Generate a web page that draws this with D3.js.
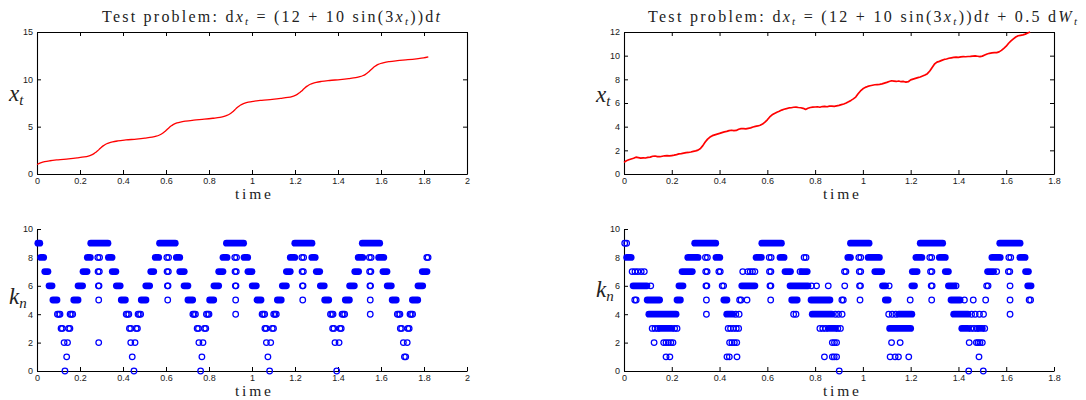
<!DOCTYPE html>
<html><head><meta charset="utf-8">
<script src="https://cdn.jsdelivr.net/npm/d3@7"></script>
<style>body{margin:0;background:#fff}svg{display:block}</style>
</head><body>
<script>
// ---------------- DATA ----------------
// tick values
const xTicksA = [0,0.2,0.4,0.6,0.8,1,1.2,1.4,1.6,1.8,2];
const xTicksB = [0,0.2,0.4,0.6,0.8,1,1.2,1.4,1.6,1.8];
const yTicksTL = [0,5,10,15];
const yTicksTR = [0,2,4,6,8,10,12];
const yTicksK = [0,2,4,6,8,10];

// deterministic path (top-left)
const detT = [0,0.0084,0.0197,0.0357,0.0603,0.098,0.1467,0.1865,0.2197,0.2388,0.2517,0.265,0.2741,0.2823,0.2892,0.2985,0.3094,
0.3157,0.3241,0.3354,0.3514,0.376,0.4137,0.4624,0.5022,0.5354,0.5545,0.5674,0.5807,0.5898,0.598,0.6049,0.6142,0.6251,
0.6314,0.6398,0.6511,0.6671,0.6917,0.7294,0.7781,0.8179,0.8511,0.8702,0.8831,0.8964,0.9055,0.9137,0.9206,0.9299,0.9408,
0.9471,0.9555,0.9668,0.9828,1.0074,1.0451,1.0938,1.1336,1.1668,1.1859,1.1988,1.2121,1.2212,1.2294,1.2363,1.2456,1.2565,
1.2628,1.2712,1.2825,1.2985,1.3231,1.3608,1.4095,1.4493,1.4825,1.5016,1.5145,1.5278,1.5369,1.5451,1.552,1.5613,1.5722,
1.5785,1.5869,1.5982,1.6142,1.6388,1.6765,1.7252,1.765,1.7982,1.82];
const detX = [1.0,1.1,1.2,1.3,1.4,1.5,1.6,1.7,1.8,1.9,2.0,2.15,2.3,2.45,2.6,2.8,3.0,
3.094,3.194,3.294,3.394,3.494,3.594,3.694,3.794,3.894,3.994,4.094,4.244,4.394,4.544,4.694,4.894,5.094,
5.189,5.289,5.389,5.489,5.589,5.689,5.789,5.889,5.989,6.089,6.189,6.339,6.489,6.639,6.789,6.989,7.189,
7.283,7.383,7.483,7.583,7.683,7.783,7.883,7.983,8.083,8.183,8.283,8.433,8.583,8.733,8.883,9.083,9.283,
9.378,9.478,9.578,9.678,9.778,9.878,9.978,10.078,10.178,10.278,10.378,10.528,10.678,10.828,10.978,11.178,11.378,
11.472,11.572,11.672,11.772,11.872,11.972,12.072,12.172,12.272,12.38];

// stochastic path (top-right), sampled every 0.01 in time
const stochStep = 0.01;
const stochX = [0.98,1.12,1.20,1.27,1.33,1.42,1.38,1.34,1.37,1.35,
1.40,1.43,1.50,1.52,1.47,1.46,1.50,1.54,1.55,1.53,
1.56,1.59,1.64,1.70,1.72,1.76,1.80,1.82,1.86,1.91,
1.95,2.02,2.15,2.40,2.70,2.95,3.12,3.24,3.31,3.37,
3.43,3.50,3.56,3.60,3.67,3.70,3.66,3.68,3.78,3.83,
3.84,3.82,3.86,3.90,3.97,4.02,4.06,4.12,4.22,4.38,
4.58,4.82,5.00,5.12,5.22,5.30,5.40,5.47,5.52,5.58,
5.60,5.64,5.65,5.62,5.60,5.55,5.46,5.56,5.62,5.65,
5.66,5.68,5.64,5.70,5.72,5.68,5.73,5.74,5.72,5.76,
5.80,5.86,5.92,6.00,6.10,6.22,6.35,6.50,6.78,7.02,
7.20,7.32,7.40,7.46,7.50,7.54,7.56,7.58,7.62,7.68,
7.74,7.82,7.88,7.85,7.82,7.86,7.80,7.82,7.76,7.80,
7.95,8.02,8.08,8.14,8.20,8.28,8.36,8.48,8.70,9.00,
9.30,9.45,9.52,9.60,9.68,9.72,9.78,9.82,9.86,9.87,
9.85,9.90,9.92,9.91,9.93,9.94,9.96,9.98,9.95,9.92,
9.96,10.05,10.14,10.20,10.23,10.25,10.26,10.32,10.45,10.62,
10.80,11.05,11.25,11.42,11.58,11.68,11.72,11.76,11.82,11.92,12.00];

// k_n, deterministic problem: dense runs [k, tStart, tEnd] and single circles [k, t]
const detRuns = [
[9,0.004,0.013],[9,0.250,0.330],[9,0.570,0.643],[9,0.881,0.961],[9,1.199,1.279],[9,1.513,1.594],
[8,0.017,0.031],[8,0.234,0.248],[8,0.332,0.349],[8,0.550,0.566],[8,0.648,0.664],[8,0.865,0.884],[8,0.963,0.980],[8,1.178,1.199],[8,1.278,1.294],[8,1.494,1.515],[8,1.589,1.613],
[7,0.036,0.051],[7,0.214,0.233],[7,0.350,0.367],[7,0.529,0.543],[7,0.664,0.685],[7,0.845,0.865],[7,0.981,1.000],[7,1.160,1.178],[7,1.299,1.315],[7,1.478,1.496],[7,1.609,1.628],[7,1.792,1.814],
[6,0.056,0.070],[6,0.191,0.212],[6,0.369,0.387],[6,0.506,0.524],[6,0.684,0.702],[6,0.823,0.845],[6,1.001,1.020],[6,1.141,1.160],[6,1.318,1.336],[6,1.454,1.476],[6,1.629,1.648],[6,1.772,1.794],
[5,0.074,0.093],[5,0.171,0.191],[5,0.392,0.411],[5,0.485,0.507],[5,0.702,0.724],[5,0.803,0.822],[5,1.023,1.042],[5,1.118,1.136],[5,1.338,1.357],[5,1.434,1.453],[5,1.652,1.671],[5,1.746,1.771]
];
const detPts = [
[8,0.283],[8,0.291],[8,0.604],[8,0.612],[8,0.920],[8,0.928],[8,1.232],[8,1.240],[8,1.546],[8,1.554],[8,1.813],[8,1.819],
[7,0.284],[7,0.290],[7,0.605],[7,0.611],[7,0.921],[7,0.927],[7,1.233],[7,1.239],[7,1.547],[7,1.553],
[6,0.2855],[6,0.2885],[6,0.6065],[6,0.6095],[6,0.9225],[6,0.9255],[6,1.2345],[6,1.2375],[6,1.5485],[6,1.5515],
[5,0.287],[5,0.608],[5,0.924],[5,1.236],[5,1.550],
[4,0.095],[4,0.101],[4,0.107],[4,0.154],[4,0.160],[4,0.166],[4,0.415],[4,0.421],[4,0.427],[4,0.470],[4,0.476],[4,0.482],
[4,0.725],[4,0.731],[4,0.737],[4,0.788],[4,0.794],[4,0.800],[4,1.047],[4,1.053],[4,1.059],[4,1.101],[4,1.107],[4,1.113],
[4,1.365],[4,1.371],[4,1.377],[4,1.419],[4,1.425],[4,1.431],[4,1.676],[4,1.682],[4,1.688],[4,1.735],[4,1.741],[4,1.747],
[4,0.924],[4,1.550],
[3,0.112],[3,0.118],[3,0.147],[3,0.153],[3,0.430],[3,0.436],[3,0.461],[3,0.467],[3,0.745],[3,0.751],[3,0.779],[3,0.785],
[3,1.060],[3,1.066],[3,1.094],[3,1.100],[3,1.375],[3,1.381],[3,1.409],[3,1.415],[3,1.690],[3,1.696],[3,1.725],[3,1.731],
[2,0.126],[2,0.142],[2,0.287],[2,0.436],[2,0.456],[2,0.753],[2,0.772],[2,1.067],[2,1.087],[2,1.386],[2,1.405],[2,1.704],[2,1.722],
[1,0.138],[1,0.443],[1,0.767],[1,1.074],[1,1.709],[1,1.715],
[0,0.130],[0,0.451],[0,0.761],[0,1.082],[0,1.394]
];

// k_n, stochastic problem
const stoRuns = [
[9,0.296,0.384],[9,0.577,0.659],[9,0.948,1.026],[9,1.240,1.334],[9,1.573,1.658],
[8,0.011,0.030],[8,0.267,0.310],[8,0.385,0.401],[8,0.553,0.575],[8,0.653,0.670],[8,0.937,0.948],[8,1.022,1.069],[8,1.222,1.247],[8,1.320,1.345],[8,1.540,1.575],[8,1.657,1.679],
[7,0.243,0.286],[7,0.674,0.697],[7,0.745,0.767],[7,1.050,1.079],[7,1.207,1.227],[7,1.345,1.358],[7,1.522,1.547],[7,1.681,1.693],
[6,0.038,0.096],[6,0.230,0.247],[6,0.493,0.548],[6,0.695,0.770],[6,1.082,1.095],[6,1.205,1.216],[6,1.358,1.382],[6,1.690,1.704],
[5,0.097,0.149],[5,0.222,0.236],[5,0.418,0.431],[5,0.702,0.725],[5,0.783,0.862],[5,1.094,1.106],[5,1.369,1.407],
[4,0.104,0.218],[4,0.430,0.455],[4,0.788,0.870],[4,1.150,1.205],[4,1.380,1.440],
[3,0.150,0.200],[3,0.856,0.885],[3,1.112,1.200],[3,1.414,1.440],[3,1.485,1.500]
];
const stoPts = [
[9,0.003],[9,0.011],
[8,0.341],[8,0.349],[8,0.608],[8,0.616],[8,0.754],[8,0.762],[8,0.983],[8,0.991],[8,1.280],[8,1.288],[8,1.611],[8,1.619],
[7,0.034],[7,0.046],[7,0.058],[7,0.072],[7,0.085],[7,0.342],[7,0.348],[7,0.397],[7,0.403],[7,0.497],[7,0.518],[7,0.528],[7,0.538],[7,0.548],
[7,0.609],[7,0.615],[7,0.737],[7,0.923],[7,0.929],[7,0.985],[7,0.991],[7,1.283],[7,1.289],[7,1.560],[7,1.609],[7,1.615],
[6,0.112],[6,0.343],[6,0.347],[6,0.411],[6,0.417],[6,0.611],[6,0.615],[6,0.785],[6,0.806],[6,0.855],[6,0.924],[6,0.986],[6,0.990],
[6,1.110],[6,1.286],[6,1.290],[6,1.390],[6,1.518],[6,1.524],[6,1.616],
[5,0.045],[5,0.051],[5,0.345],[5,0.484],[5,0.490],[5,0.515],[5,0.614],[5,0.912],[5,0.918],[5,0.988],[5,1.198],[5,1.288],
[5,1.425],[5,1.462],[5,1.514],[5,1.616],[5,1.696],[5,1.702],
[4,0.345],[4,0.468],[4,0.482],[4,0.710],[4,0.720],[4,0.885],[4,0.898],[4,0.913],[4,1.108],[4,1.123],[4,1.138],
[4,1.455],[4,1.470],[4,1.488],[4,1.505],[4,1.616],
[3,0.118],[3,0.130],[3,0.142],[3,0.212],[3,0.222],[3,0.436],[3,0.446],[3,0.458],[3,0.470],[3,0.480],
[3,0.820],[3,0.832],[3,0.844],[3,0.895],[3,0.906],[3,1.452],[3,1.465],[3,1.478],[3,1.510],
[2,0.126],[2,0.166],[2,0.176],[2,0.186],[2,0.196],[2,0.205],[2,0.442],[2,0.452],[2,0.462],[2,0.472],
[2,0.872],[2,0.881],[2,0.890],[2,1.120],[2,1.156],[2,1.445],[2,1.475],[2,1.482],[2,1.490],[2,1.500],
[1,0.176],[1,0.192],[1,0.431],[1,0.441],[1,0.473],[1,0.839],[1,0.872],[1,0.880],[1,0.890],[1,1.114],[1,1.135],[1,1.149],[1,1.192],[1,1.486],
[0,0.901],[0,1.443],[0,1.504]
];

// ---------------- DRAWING ----------------
const svg = d3.select("body").append("svg").attr("width",1086).attr("height",400);
const SERIF = "'Liberation Serif','Times New Roman',serif";
const SANS = "'Liberation Sans',Arial,Helvetica,sans-serif";
const fmt = d => String(+(+d).toFixed(1));

function panel(c){
  const x = d3.scaleLinear().domain(c.xDomain).range([c.left,c.right]);
  const y = d3.scaleLinear().domain(c.yDomain).range([c.bottom,c.top]);
  const g = svg.append("g");
  const ax = g.append("g").attr("class","axes");
  ax.append("g").attr("transform",`translate(0,${c.bottom})`)
    .call(d3.axisBottom(x).tickValues(c.xTicks).tickFormat(fmt).tickSizeInner(-4).tickSizeOuter(0).tickPadding(4));
  ax.append("g").attr("transform",`translate(${c.left},0)`)
    .call(d3.axisLeft(y).tickValues(c.yTicks).tickFormat(fmt).tickSizeInner(-4).tickSizeOuter(0).tickPadding(4));
  if(c.box){
    ax.append("g").attr("transform",`translate(0,${c.top})`)
      .call(d3.axisTop(x).tickValues(c.xTicks).tickFormat("").tickSizeInner(-4).tickSizeOuter(0));
    ax.append("g").attr("transform",`translate(${c.right},0)`)
      .call(d3.axisRight(y).tickValues(c.yTicks).tickFormat("").tickSizeInner(-4).tickSizeOuter(0));
  }
  ax.selectAll(".domain").attr("stroke","#000").attr("stroke-width",1.1);
  ax.selectAll(".tick line").attr("stroke","#000");
  ax.selectAll(".tick text").attr("font-family",SANS).attr("font-size",9).attr("fill","#1a1a1a");
  return {x,y,g};
}

function timeLabel(cx, baseY){
  svg.append("text").attr("x",cx).attr("y",baseY).attr("text-anchor","middle")
    .attr("font-family",SERIF).attr("font-size",15.5).attr("fill","#222")
    .attr("textLength",36).attr("lengthAdjust","spacing").text("time");
}
function varLabel(x0, baseY, main, sub){
  const t = svg.append("text").attr("x",x0).attr("y",baseY).attr("font-family",SERIF).attr("fill","#222").attr("font-style","italic");
  t.append("tspan").attr("font-size",23).text(main);
  t.append("tspan").attr("font-size",15).attr("dy",4).text(sub);
}
function title(x0, baseY, width, withNoise){
  const t = svg.append("text").attr("x",x0).attr("y",baseY).attr("font-family",SERIF)
    .attr("font-size",16).attr("fill","#222").attr("textLength",width).attr("lengthAdjust","spacing");
  const seg = (s,it,dy,fs)=>{const ts=t.append("tspan").text(s); if(it) ts.attr("font-style","italic"); if(dy) ts.attr("dy",dy); if(fs) ts.attr("font-size",fs);};
  seg("Test problem:  d");
  seg("x",true); seg("t",true,3,11);
  seg(" = (12 + 10 sin(3",false,-3);
  seg("x",true); seg("t",true,3,11);
  seg("))d",false,-3); seg("t",true);
  if(withNoise){ seg(" + 0.5 d"); seg("W",true); seg("t",true,3,11); }
}

// Top-left
const TL = panel({left:37,right:467,top:32,bottom:174,xDomain:[0,2],yDomain:[0,15],xTicks:xTicksA,yTicks:yTicksTL,box:true});
TL.g.append("path").datum(detT.map((t,i)=>({t,v:detX[i]})))
  .attr("fill","none").attr("stroke","#ff0000").attr("stroke-width",1.3)
  .attr("d",d3.line().x(d=>TL.x(d.t)).y(d=>TL.y(d.v)).curve(d3.curveMonotoneX));
title(102,22,338,false);
timeLabel(253,199);
varLabel(9,101,"x","t");

// Top-right
const TR = panel({left:624,right:1054,top:32,bottom:174,xDomain:[0,1.8],yDomain:[0,12],xTicks:xTicksB,yTicks:yTicksTR,box:true});
TR.g.append("path").datum(stochX.map((v,i)=>({t:i*stochStep,v})))
  .attr("fill","none").attr("stroke","#ff0000").attr("stroke-width",1.7).attr("stroke-linejoin","round")
  .attr("d",d3.line().x(d=>TR.x(d.t)).y(d=>TR.y(d.v)));
title(648,22,429,true);
timeLabel(841,199);
varLabel(596,102,"x","t");

// k_n panels
function kPanel(c, runs, pts){
  const P = panel(c);
  P.g.append("g").selectAll("line").data(runs).join("line")
    .attr("x1",d=>P.x(d[1])).attr("x2",d=>P.x(d[2])).attr("y1",d=>P.y(d[0])).attr("y2",d=>P.y(d[0]))
    .attr("stroke","#0000ff").attr("stroke-width",6.8).attr("stroke-linecap","round");
  P.g.append("g").selectAll("circle").data(pts).join("circle")
    .attr("cx",d=>P.x(d[1])).attr("cy",d=>P.y(d[0])).attr("r",2.8)
    .attr("fill","none").attr("stroke","#0000ff").attr("stroke-width",1.25);
  return P;
}
kPanel({left:37,right:467,top:229,bottom:371,xDomain:[0,2],yDomain:[0,10],xTicks:xTicksA,yTicks:yTicksK,box:false}, detRuns, detPts);
timeLabel(253,396);
varLabel(9,304,"k","n");

kPanel({left:624,right:1054,top:229,bottom:371,xDomain:[0,1.8],yDomain:[0,10],xTicks:xTicksB,yTicks:yTicksK,box:false}, stoRuns, stoPts);
timeLabel(841,396);
varLabel(596,297,"k","n");
</script>
</body></html>
